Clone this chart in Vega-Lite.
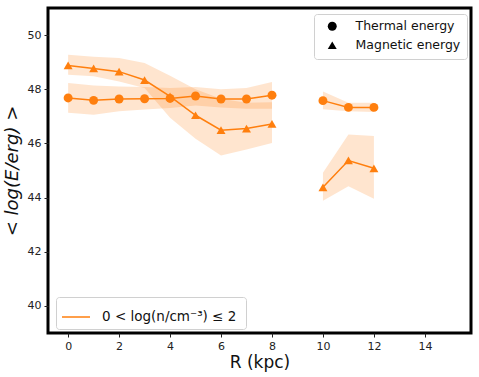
{
  "$schema": "https://vega.github.io/schema/vega-lite/v6.json",
  "width": 423,
  "height": 325,
  "autosize": "none",
  "padding": {"left": 48, "top": 8, "right": 8, "bottom": 44},
  "background": "white",
  "config": {
    "view": {"stroke": "black", "strokeWidth": 3},
    "font": "DejaVu Sans",
    "axis": {"labelFont": "DejaVu Sans", "titleFont": "DejaVu Sans", "labelColor": "#222", "tickColor": "#222", "grid": false, "domain": false, "labelFontSize": 11, "tickSize": 4, "titleFontWeight": "normal", "titleColor": "#111"}
  },
  "data": {
    "values": [
      {"R": 0, "E": "Thermal energy", "g": "T1", "bin": "0 < log(n/cm⁻³) ≤  2", "v": 47.68, "lo": 47.13, "hi": 48.23},
      {"R": 1, "E": "Thermal energy", "g": "T1", "bin": "0 < log(n/cm⁻³) ≤  2", "v": 47.59, "lo": 47.06, "hi": 48.14},
      {"R": 2, "E": "Thermal energy", "g": "T1", "bin": "0 < log(n/cm⁻³) ≤  2", "v": 47.64, "lo": 47.19, "hi": 48.10},
      {"R": 3, "E": "Thermal energy", "g": "T1", "bin": "0 < log(n/cm⁻³) ≤  2", "v": 47.65, "lo": 47.25, "hi": 48.08},
      {"R": 4, "E": "Thermal energy", "g": "T1", "bin": "0 < log(n/cm⁻³) ≤  2", "v": 47.66, "lo": 47.31, "hi": 48.05},
      {"R": 5, "E": "Thermal energy", "g": "T1", "bin": "0 < log(n/cm⁻³) ≤  2", "v": 47.75, "lo": 47.40, "hi": 48.08},
      {"R": 6, "E": "Thermal energy", "g": "T1", "bin": "0 < log(n/cm⁻³) ≤  2", "v": 47.64, "lo": 47.33, "hi": 48.00},
      {"R": 7, "E": "Thermal energy", "g": "T1", "bin": "0 < log(n/cm⁻³) ≤  2", "v": 47.64, "lo": 47.28, "hi": 48.05},
      {"R": 8, "E": "Thermal energy", "g": "T1", "bin": "0 < log(n/cm⁻³) ≤  2", "v": 47.78, "lo": 47.28, "hi": 48.27},
      {"R": 10, "E": "Thermal energy", "g": "T2", "bin": "0 < log(n/cm⁻³) ≤  2", "v": 47.58, "lo": 47.26, "hi": 47.92},
      {"R": 11, "E": "Thermal energy", "g": "T2", "bin": "0 < log(n/cm⁻³) ≤  2", "v": 47.33, "lo": 47.19, "hi": 47.50},
      {"R": 12, "E": "Thermal energy", "g": "T2", "bin": "0 < log(n/cm⁻³) ≤  2", "v": 47.33, "lo": 47.16, "hi": 47.50},
      {"R": 0, "E": "Magnetic energy", "g": "M1", "bin": "0 < log(n/cm⁻³) ≤  2", "v": 48.88, "lo": 48.54, "hi": 49.27},
      {"R": 1, "E": "Magnetic energy", "g": "M1", "bin": "0 < log(n/cm⁻³) ≤  2", "v": 48.77, "lo": 48.48, "hi": 49.20},
      {"R": 2, "E": "Magnetic energy", "g": "M1", "bin": "0 < log(n/cm⁻³) ≤  2", "v": 48.65, "lo": 48.29, "hi": 49.15},
      {"R": 3, "E": "Magnetic energy", "g": "M1", "bin": "0 < log(n/cm⁻³) ≤  2", "v": 48.34, "lo": 48.05, "hi": 48.97},
      {"R": 4, "E": "Magnetic energy", "g": "M1", "bin": "0 < log(n/cm⁻³) ≤  2", "v": 47.74, "lo": 46.95, "hi": 48.50},
      {"R": 5, "E": "Magnetic energy", "g": "M1", "bin": "0 < log(n/cm⁻³) ≤  2", "v": 47.04, "lo": 46.17, "hi": 48.00},
      {"R": 6, "E": "Magnetic energy", "g": "M1", "bin": "0 < log(n/cm⁻³) ≤  2", "v": 46.49, "lo": 45.55, "hi": 47.65},
      {"R": 7, "E": "Magnetic energy", "g": "M1", "bin": "0 < log(n/cm⁻³) ≤  2", "v": 46.55, "lo": 45.78, "hi": 47.50},
      {"R": 8, "E": "Magnetic energy", "g": "M1", "bin": "0 < log(n/cm⁻³) ≤  2", "v": 46.72, "lo": 46.02, "hi": 47.52},
      {"R": 10, "E": "Magnetic energy", "g": "M2", "bin": "0 < log(n/cm⁻³) ≤  2", "v": 44.38, "lo": 43.88, "hi": 44.92},
      {"R": 11, "E": "Magnetic energy", "g": "M2", "bin": "0 < log(n/cm⁻³) ≤  2", "v": 45.37, "lo": 44.42, "hi": 46.33},
      {"R": 12, "E": "Magnetic energy", "g": "M2", "bin": "0 < log(n/cm⁻³) ≤  2", "v": 45.08, "lo": 43.96, "hi": 46.27}
    ]
  },
  "encoding": {
    "x": {"field": "R", "type": "quantitative", "scale": {"domain": [-0.79, 15.81], "nice": false, "zero": false},
      "axis": {"values": [0, 2, 4, 6, 8, 10, 12, 14], "title": "R (kpc)", "titleFontSize": 17, "titlePadding": 3, "labelPadding": 3}},
    "y": {"field": "v", "type": "quantitative", "scale": {"domain": [39, 51], "nice": false, "zero": false},
      "axis": {"values": [40, 42, 44, 46, 48, 50], "title": "< log(E/erg) >", "titleFontSize": 18, "titleFontStyle": "italic", "titlePadding": 6, "labelPadding": 3}}
  },
  "layer": [
    {
      "mark": {"type": "point", "filled": true, "color": "black", "opacity": 0, "size": 80},
      "encoding": {
        "shape": {"field": "E", "type": "nominal", "scale": {"domain": ["Thermal energy", "Magnetic energy"], "range": ["circle", "triangle-up"]},
          "legend": {"title": null, "orient": "none", "legendX": 266, "legendY": 6, "symbolSize": 80, "symbolOpacity": 1, "symbolFillColor": "black", "symbolStrokeColor": "black", "symbolOffset": 6,
            "labelFontSize": 12.5, "labelFont": "DejaVu Sans", "labelColor": "#111", "fillColor": "white", "strokeColor": "#d0d0d0", "cornerRadius": 3, "padding": 6, "rowPadding": 4, "labelOffset": 17}
        }
      }
    },
    {
      "mark": {"type": "area", "color": "#ff7f0e", "opacity": 0.2, "interpolate": "linear"},
      "encoding": {
        "y": {"field": "lo", "type": "quantitative"},
        "y2": {"field": "hi"},
        "detail": {"field": "g", "type": "nominal"}
      }
    },
    {
      "mark": {"type": "line", "strokeWidth": 1.5},
      "encoding": {
        "detail": {"field": "g", "type": "nominal"},
        "stroke": {"field": "bin", "type": "nominal", "scale": {"range": ["#ff7f0e"]},
          "legend": {"title": null, "orient": "none", "legendX": 8, "legendY": 289, "symbolType": "stroke", "symbolSize": 784, "symbolStrokeWidth": 1.5,
            "labelFontSize": 13.5, "labelFont": "DejaVu Sans", "labelColor": "#111", "fillColor": "white", "strokeColor": "#d0d0d0", "cornerRadius": 3, "padding": 5, "labelOffset": 11}}
      }
    },
    {
      "mark": {"type": "point", "filled": true, "color": "#ff7f0e", "opacity": 1, "size": 80},
      "encoding": {
        "shape": {"field": "E", "type": "nominal", "legend": null}
      }
    }
  ]
}
